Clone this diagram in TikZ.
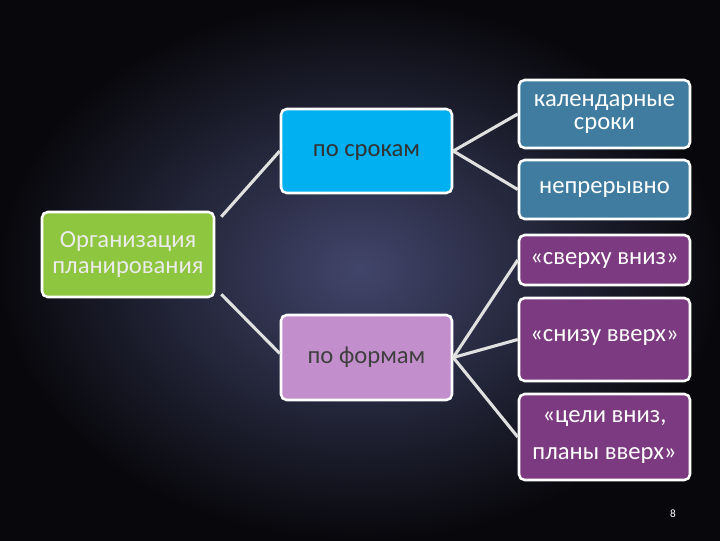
\documentclass[tikz,border=0pt]{standalone}
\usepackage{fontspec}
\setmainfont{Carlito}
\usetikzlibrary{calc}
\definecolor{bgin}{HTML}{41456A}
\definecolor{bgout}{HTML}{08080C}
\definecolor{cgreen}{HTML}{8EC63F}
\definecolor{ccyan}{HTML}{00B0F0}
\definecolor{clil}{HTML}{C38ECC}
\definecolor{cblue}{HTML}{3F7CA0}
\definecolor{cpur}{HTML}{7C3A80}
\tikzset{
 box/.style={draw=white,line width=1.8pt,rounded corners=4pt,inner sep=1pt,align=center,font=\fontsize{17.5}{26}\selectfont},
 link/.style={draw=white!88!black,line width=2.2pt}
}
\begin{document}
\begin{tikzpicture}[x=0.025cm,y=-0.025cm]
\shade[inner color=bgin,outer color=bgout] (0,0) rectangle (720,540);
\useasboundingbox (0,0) rectangle (720,540);
\node[box,fill=cgreen,text=white!92!black,minimum width=172*0.025cm,minimum height=85*0.025cm] (org) at (128,254.5) {Организация\\[-8pt]планирования};
\node[box,fill=ccyan,text=black!80,minimum width=171*0.025cm,minimum height=84*0.025cm] (srok) at (366.5,151) {\raisebox{-10pt}{по срокам}};
\node[box,fill=clil,text=black!75,minimum width=171*0.025cm,minimum height=85*0.025cm] (form) at (366.5,357.5) {\raisebox{-10pt}{по формам}};
\node[box,fill=cblue,text=white,minimum width=171*0.025cm,minimum height=68*0.025cm] (kal) at (604.5,114) {календарные\\[-10pt]сроки};
\node[box,fill=cblue,text=white,minimum width=171*0.025cm,minimum height=59*0.025cm] (nep) at (604.5,189.5) {непрерывно};
\node[box,fill=cpur,text=white,minimum width=171*0.025cm,minimum height=50*0.025cm] (sv) at (604.5,260) {«сверху вниз»};
\node[box,fill=cpur,text=white,minimum width=171*0.025cm,minimum height=83*0.025cm] (sn) at (604.5,339.5) {\raisebox{6pt}{«снизу вверх»}};
\node[box,fill=cpur,text=white,minimum width=171*0.025cm,minimum height=86*0.025cm] (cel) at (604.5,437) {«цели вниз,\\планы вверх»};
\node[text=white,font=\fontsize{8}{9}\selectfont] (num) at (673,514) {8};
\draw[link] ($(org.north east)+(6,6)$) -- (srok.west);
\draw[link] ($(org.south east)+(6,-4)$) -- ($(form.west)+(0,-4)$);
\draw[link] (srok.east) -- (kal.west);
\draw[link] (srok.east) -- (nep.west);
\draw[link] (form.east) -- (sv.west);
\draw[link] (form.east) -- (sn.west);
\draw[link] (form.east) -- (cel.west);
\end{tikzpicture}
\end{document}
